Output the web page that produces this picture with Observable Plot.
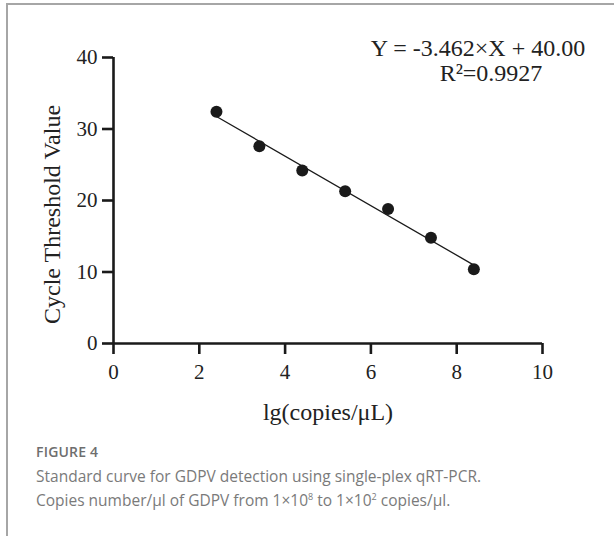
<!DOCTYPE html>
<html>
<head>
<meta charset="utf-8">
<script src="https://cdn.jsdelivr.net/npm/d3@7"></script>
<script src="https://cdn.jsdelivr.net/npm/@observablehq/plot@0.6"></script>
<style>
  html, body { margin: 0; padding: 0; background: #fff; width: 614px; height: 536px; overflow: hidden; }
  #frame { position: absolute; left: 6px; top: 3px; width: 700px; height: 600px;
           border-top: 2px solid #a6a6a6; border-left: 2px solid #a6a6a6; }
  #chart { position: absolute; left: 0; top: 0; }
  #cap { position: absolute; left: 36px; top: 440px; font-family: "Open Sans", sans-serif; color: #7a7a7a; }
  #cap .fig { font-size: 14px; font-weight: 600; color: #6e6e6e; letter-spacing: 0.2px; line-height: 24px; }
  #cap .txt { font-size: 15.5px; line-height: 24px; }
  #cap sup { font-size: 9px; vertical-align: 6px; line-height: 0; }
</style>
</head>
<body>
<div id="frame"></div>
<div id="chart"></div>
<div id="cap">
  <div class="fig">FIGURE 4</div>
  <div class="txt">Standard curve for GDPV detection using single-plex qRT-PCR.<br>Copies number/µl of GDPV from 1×10<sup>8</sup> to 1×10<sup>2</sup> copies/µl.</div>
</div>
<script>
// Data
const lgCopies = [2.4, 3.4, 4.4, 5.4, 6.4, 7.4, 8.4];
const ctValues = [32.4, 27.6, 24.2, 21.3, 18.8, 14.8, 10.4];
const xTicks = [0, 2, 4, 6, 8, 10];
const yTicks = [0, 10, 20, 30, 40];
const equationText = "Y = -3.462×X + 40.00";
const r2Text = "R²=0.9927";
const xLabel = "lg(copies/μL)";
const yLabel = "Cycle Threshold Value";

const pts = lgCopies.map((x, i) => ({x, y: ctValues[i]}));
const serif = "'Liberation Serif', 'Times New Roman', serif";
const ink = "#1a1a1a";

const chart = Plot.plot({
  width: 614,
  height: 430,
  marginLeft: 113,
  marginRight: 72,
  marginTop: 57,
  marginBottom: 87,
  style: {fontFamily: serif, fontSize: "21px", background: "transparent", color: ink},
  x: {domain: [0, 10]},
  y: {domain: [0, 40]},
  marks: [
    Plot.axisX({ticks: xTicks, tickSize: 11, tickPadding: 10, strokeWidth: 2.6, stroke: ink,
                fontSize: 21, fill: "#222", label: null}),
    Plot.axisY({ticks: yTicks, tickSize: 11, tickPadding: 5, strokeWidth: 2.6, stroke: ink,
                fontSize: 21, fill: "#222", label: null}),
    Plot.ruleY([0], {stroke: ink, strokeWidth: 2.6}),
    Plot.ruleX([0], {stroke: ink, strokeWidth: 2.6}),
    Plot.linearRegressionY(pts, {x: "x", y: "y", ci: 0, stroke: ink, strokeWidth: 1.3}),
    Plot.dot(pts, {x: "x", y: "y", r: 6, fill: ink, stroke: "none"}),
    Plot.text([xLabel], {text: d => d, frameAnchor: "bottom", dy: 69, fontSize: 24, fill: "#222", lineAnchor: "middle"}),
    Plot.text([yLabel], {text: d => d, frameAnchor: "left", rotate: -90, dx: -61, dy: 14, fontSize: 24, fill: "#222", textAnchor: "middle", lineAnchor: "middle"}),
    Plot.text([equationText], {text: d => d, frameAnchor: "top", dx: 150, dy: -9, fontSize: 24, fill: "#222", lineAnchor: "middle"}),
    Plot.text([r2Text], {text: d => d, frameAnchor: "top", dx: 163, dy: 16, fontSize: 24, fill: "#222", lineAnchor: "middle"})
  ]
});
document.getElementById("chart").appendChild(chart);
</script>
</body>
</html>
